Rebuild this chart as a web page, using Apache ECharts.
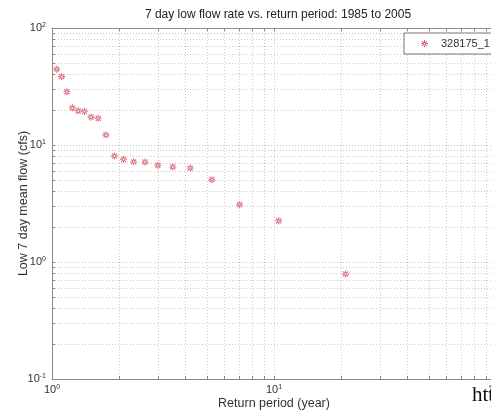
<!DOCTYPE html>
<html>
<head>
<meta charset="utf-8">
<script src="https://cdn.jsdelivr.net/npm/echarts@6/dist/echarts.min.js"></script>
<style>
  html, body { margin: 0; padding: 0; background: #fff; }
  #chart { width: 491px; height: 411px; }
</style>
</head>
<body>
<div id="chart"></div>
<script>
// return period (year) and low 7 day mean flow (cfs), 1985 to 2005
var returnPeriod = [1.05, 1.105, 1.167, 1.235, 1.3125, 1.4, 1.5, 1.615, 1.75, 1.909,
                    2.1, 2.333, 2.625, 3, 3.5, 4.2, 5.25, 7, 10.5, 21];
var lowFlow = [44.4, 38.4, 28.5, 20.8, 19.6, 19.4, 17.3, 16.9, 12.2, 8.05,
               7.55, 7.19, 7.16, 6.7, 6.49, 6.35, 5.05, 3.09, 2.25, 0.79];
var seriesName = '328175_1';

var xGridValues = [1, 2, 3, 4, 5, 6, 7, 8, 9, 10, 20, 30, 40, 50, 60, 70, 80, 90, 100];
var yGridValues = [0.1, 0.2, 0.3, 0.4, 0.5, 0.6, 0.7, 0.8, 0.9,
                   1, 2, 3, 4, 5, 6, 7, 8, 9,
                   10, 20, 30, 40, 50, 60, 70, 80, 90, 100];
var xLabelValues = [1, 10, 100];
var yLabelValues = [0.1, 1, 10, 100];

// asterisk marker, like matlab '*'
var star = 'path://M-0.15,-1L0.15,-1L0.15,1L-0.15,1Z' +
  'M-1,-0.15L1,-0.15L1,0.15L-1,0.15Z' +
  'M0.601,0.813L0.813,0.601L-0.601,-0.813L-0.813,-0.601Z' +
  'M0.813,-0.601L0.601,-0.813L-0.813,0.601L-0.601,0.813Z';

var font = "'Liberation Sans', Arial, sans-serif";
var axisGray = '#8a8a8a';

function powLabel(v) {
  var e = Math.round(Math.log10(v));
  return '{b|10}{s|' + e + '}';
}
var labelRich = {
  b: { fontSize: 11, color: '#333', fontFamily: font },
  s: { fontSize: 7, color: '#333', fontFamily: font, verticalAlign: 'top', padding: [0, 0, 5, 0] }
};

var chart = echarts.init(document.getElementById('chart'));

var option = {
  animation: false,
  backgroundColor: '#fff',
  title: {
    text: '7 day low flow rate vs. return period: 1985 to 2005',
    left: 273,
    textAlign: 'center',
    top: 4,
    textStyle: { fontSize: 12, fontWeight: 'normal', color: '#222', fontFamily: font }
  },
  legend: {
    left: 404,
    top: 33,
    backgroundColor: '#fff',
    borderColor: '#777',
    borderWidth: 1,
    borderRadius: 0,
    padding: [5, 12, 5, 17],
    itemWidth: 7,
    itemHeight: 7,
    itemGap: 6,
    textStyle: { fontSize: 11, color: '#333', fontFamily: font, padding: [0, 0, 0, 8] },
    data: [{ name: seriesName, icon: star }]
  },
  grid: { left: 52, top: 28, width: 444, height: 351, containLabel: false, outerBoundsMode: 'none' },
  xAxis: [{
    type: 'log',
    logBase: 10,
    min: 1,
    max: 100,
    name: 'Return period (year)',
    nameLocation: 'middle',
    nameGap: 18,
    nameMoveOverlap: false,
    nameTextStyle: { fontSize: 12.5, color: '#333', fontFamily: font },
    axisLine: { show: true, lineStyle: { color: axisGray, width: 1 } },
    axisTick: { show: true, inside: true, length: 3, customValues: xGridValues, lineStyle: { color: axisGray } },
    axisLabel: { customValues: xLabelValues, formatter: powLabel, rich: labelRich, margin: 5 },
    splitLine: { show: true, lineStyle: { color: '#c9c9c9', type: [1, 2], width: 1 } }
  }, {
    type: 'log',
    logBase: 10,
    min: 1,
    max: 100,
    position: 'top',
    axisLine: { show: true, lineStyle: { color: axisGray, width: 1 } },
    axisTick: { show: true, inside: true, length: 3, customValues: xGridValues, lineStyle: { color: axisGray } },
    axisLabel: { show: false },
    splitLine: { show: false }
  }],
  yAxis: [{
    type: 'log',
    logBase: 10,
    min: 0.1,
    max: 100,
    name: 'Low 7 day mean flow (cfs)',
    nameLocation: 'middle',
    nameGap: 22,
    nameMoveOverlap: false,
    nameTextStyle: { fontSize: 12.5, color: '#333', fontFamily: font },
    axisLine: { show: true, lineStyle: { color: axisGray, width: 1 } },
    axisTick: { show: true, inside: true, length: 3, customValues: yGridValues, lineStyle: { color: axisGray } },
    axisLabel: { customValues: yLabelValues, formatter: powLabel, rich: labelRich, margin: 6 },
    splitLine: { show: true, lineStyle: { color: '#c9c9c9', type: [1, 2], width: 1 } }
  }],
  series: [{
    name: seriesName,
    type: 'scatter',
    xAxisIndex: 0,
    yAxisIndex: 0,
    symbol: star,
    symbolSize: 7,
    itemStyle: { color: '#d4485a', opacity: 0.85 },
    data: returnPeriod.map(function (t, i) { return [t, lowFlow[i]]; })
  }],
  graphic: [{
    type: 'text',
    left: 472,
    top: 385,
    style: { text: 'http', fontSize: 21, fontFamily: "'Liberation Serif', 'DejaVu Serif', serif", fill: '#111' }
  }]
};

chart.setOption(option);
</script>
</body>
</html>
